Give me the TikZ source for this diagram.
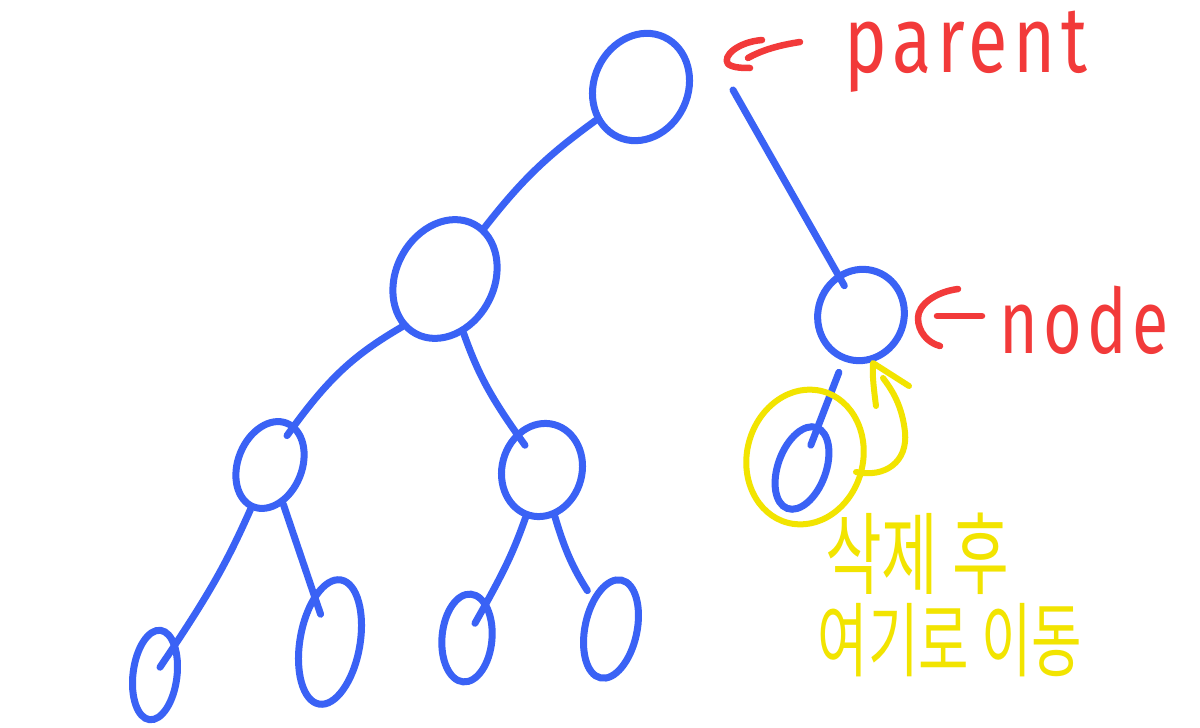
\documentclass[tikz,border=0pt]{standalone}
\usepackage{fontspec}
\usepackage{graphicx}
\newfontfamily\kr{Noto Sans CJK KR}
\newfontfamily\hand[LetterSpace=8]{Fira Sans}
\usetikzlibrary{shapes.geometric,calc}
\definecolor{pen}{RGB}{58,98,245}
\definecolor{ink}{RGB}{242,58,58}
\definecolor{hl}{RGB}{242,228,0}
\begin{document}
\begin{tikzpicture}[x=1pt,y=-1pt,
  oval/.style={ellipse, draw=pen, line width=7pt, inner sep=0pt},
  edge/.style={draw=pen, line width=7pt, line cap=round},
  redpen/.style={draw=ink, line width=6.5pt, line cap=round, line join=round},
  hlpen/.style={draw=hl, line width=6pt, line cap=round, line join=round},
  lbl/.style={text=ink, font=\hand\fontsize{72}{72}\selectfont, inner sep=0pt},
  klbl/.style={text=hl, font=\kr\fontsize{56}{60}\selectfont, inner sep=0pt}]
\fill[white] (0,0) rectangle (1200,728);
\useasboundingbox (0,0) rectangle (1200,728);

% tree nodes
\node[oval, minimum width=94pt, minimum height=110pt, rotate=-25] (root) at (641,87) {};
\node[oval, minimum width=98pt, minimum height=124pt, rotate=-28] (L2) at (445,279) {};
\node[oval, minimum width=86pt, minimum height=92pt, rotate=-20] (node) at (861,315) {};
\node[oval, minimum width=64pt, minimum height=90pt, rotate=-22] (L3L) at (270,465) {};
\node[oval, minimum width=80pt, minimum height=94pt, rotate=-15] (L3R) at (542,470) {};
\node[oval, minimum width=48pt, minimum height=86pt, rotate=-20] (child) at (802,468) {};
\node[oval, minimum width=44pt, minimum height=90pt, rotate=-7] (leaf1) at (155,675) {};
\node[oval, minimum width=60pt, minimum height=126pt, rotate=-10] (leaf2) at (330,642) {};
\node[oval, minimum width=50pt, minimum height=88pt, rotate=-5] (leaf3) at (467,638) {};
\node[oval, minimum width=52pt, minimum height=100pt, rotate=-12] (leaf4) at (611,629) {};

% edges
\coordinate (pstart) at (733,90);
\draw[edge] (root) to[bend right=8] (L2);
\draw[edge, shorten >=-14pt] (pstart) -- (node);
\draw[edge, shorten >=-14pt] (L2.256) to[bend right=12] (L3L);
\draw[edge, shorten >=-16pt] (L2) to[bend right=8] (L3R);
\draw[edge, shorten >=-30pt] (L3L) to[bend left=5] (leaf1);
\draw[edge, shorten >=-22pt] (L3L) to (leaf2);
\draw[edge, shorten >=-25pt] (L3R) to[bend left=5] (leaf3);
\draw[edge, shorten >=8pt] (L3R) to[bend right=8] (leaf4);
\draw[edge, shorten <=12pt, shorten >=-22pt] (node) -- (child);

% red labels and arrows
\node[lbl] (plabel) at (966,52) {\scalebox{1}[1.3]{parent}};
\node[lbl] (nlabel) at (1084,320) {\scalebox{0.92}[1.25]{node}};
\coordinate (pa) at (748,58);
\draw[redpen] (800,42) .. controls (780,45) and (762,50) .. (pa);
\draw[redpen] (762,40) .. controls (738,42) and (722,56) .. (728,64) .. controls (733,68) and (744,68) .. (750,68);
\coordinate (na) at (937,316);
\draw[redpen] (982,316) -- (na);
\draw[redpen] (958,289) .. controls (935,292) and (918,305) .. (918,318) .. controls (918,332) and (928,343) .. (940,346);

% yellow highlight
\node[ellipse, draw=hl, line width=6pt, minimum width=116pt, minimum height=136pt, rotate=-15] (mark) at (805,457) {};
\coordinate (apex) at (873,363);
\draw[hlpen] (856,472) .. controls (885,478) and (908,462) .. (905,432) .. controls (902,405) and (892,390) .. (883,378);
\draw[hlpen] (876,406) .. controls (874,390) and (872,375) .. (apex) -- (909,386);
\node[klbl] (t1) at (917,554) {\scalebox{1.1}[1.6]{삭제 후}};
\node[klbl] (t2) at (950,640) {\scalebox{0.98}[1.45]{여기로 이동}};
\end{tikzpicture}
\end{document}
